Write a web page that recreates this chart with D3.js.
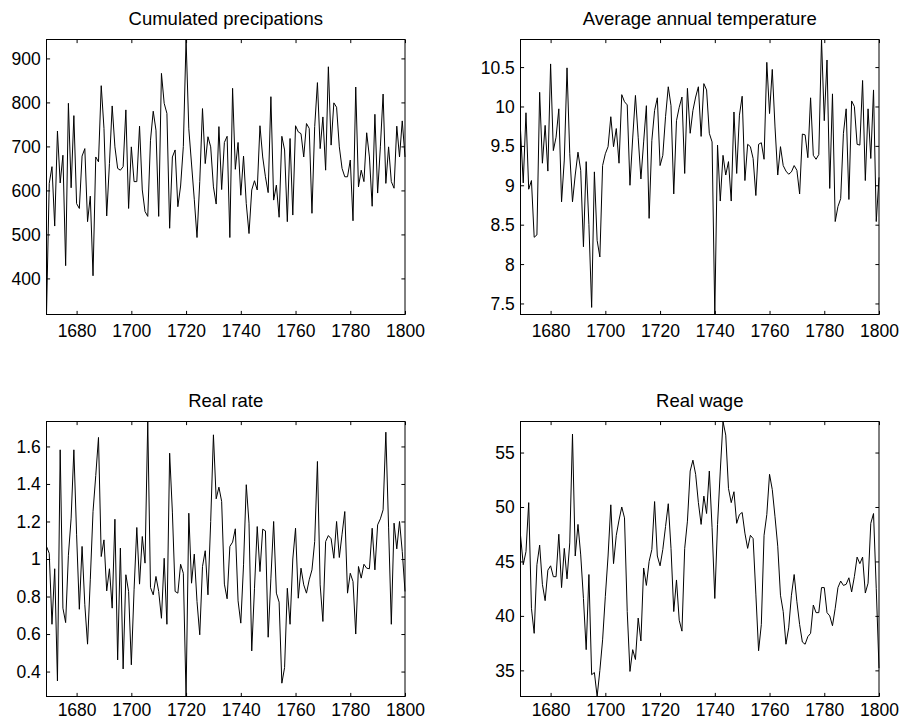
<!DOCTYPE html>
<html>
<head>
<meta charset="utf-8">
<script src="https://cdn.jsdelivr.net/npm/d3@7"></script>
<style>
    body { margin: 0; background: #ffffff; }
    svg text { font-family: "Liberation Sans", Arial, Helvetica, sans-serif; fill: #000; }
</style>
</head>
<body>
<div id="chart"></div>
<script>

// years covered by the four series (one value per year)
const years = d3.range(1669, 1801);
const xTicks = [1680, 1700, 1720, 1740, 1760, 1780, 1800];

// cumulated precipitations, 1669..1800
const precipitation = [
    318,
    616, 654, 519, 735, 617, 680, 429, 798, 606, 770,       // 1670s
    570, 559, 678, 695, 529, 587, 406, 676, 665, 838,       // 1680s
    741, 542, 661, 792, 699, 650, 646, 654, 783, 559,       // 1690s
    699, 620, 620, 746, 601, 552, 541, 714, 780, 737,       // 1700s
    541, 866, 798, 775, 514, 676, 692, 563, 610, 700,       // 1710s
    943, 740, 660, 580, 493, 620, 786, 661, 722, 699,       // 1720s
    608, 569, 745, 602, 709, 723, 493, 832, 648, 709,       // 1730s
    589, 678, 570, 502, 601, 622, 601, 747, 676, 631,       // 1740s
    595, 813, 578, 612, 539, 723, 692, 529, 718, 544,       // 1750s
    747, 733, 729, 676, 752, 741, 548, 745, 845, 695,       // 1760s
    767, 646, 881, 703, 799, 789, 699, 650, 631, 631,       // 1770s
    669, 531, 835, 608, 646, 620, 731, 676, 564, 773,       // 1780s
    594, 699, 819, 616, 699, 620, 605, 746, 676, 758,       // 1790s
    676
];

// average annual temperature, 1669..1800
const temperature = [
    9.7,
    9.03, 9.92, 8.95, 9.06, 8.34, 8.37, 10.18, 9.28, 9.76, 9.18,
    10.54, 9.44, 9.61, 9.97, 8.79, 9.32, 10.49, 9.40, 8.79, 9.13,
    9.42, 9.19, 8.22, 9.30, 8.5, 7.45, 9.17, 8.30, 8.09, 9.25,
    9.40, 9.49, 9.87, 9.49, 9.72, 9.28, 10.15, 10.06, 10.02, 9.0,
    9.6, 10.14, 9.61, 9.08, 9.55, 10.01, 8.58, 9.57, 9.95, 10.11,
    9.25, 9.38, 9.87, 10.25, 10.01, 8.89, 9.82, 9.99, 10.12, 9.15,
    10.23, 9.66, 9.95, 10.12, 10.25, 9.62, 10.29, 10.21, 9.66, 9.55,
    7.36, 9.51, 8.80, 9.38, 9.13, 9.30, 8.80, 9.93, 9.15, 9.89,
    10.13, 9.06, 9.52, 9.49, 9.34, 8.87, 9.52, 9.54, 9.33, 10.56,
    9.91, 10.47, 9.74, 9.13, 9.49, 9.25, 9.18, 9.14, 9.17, 9.25,
    9.19, 8.89, 9.65, 9.64, 9.35, 10.11, 9.38, 9.33, 9.39, 10.85,
    9.82, 10.59, 8.96, 10.16, 8.54, 8.73, 8.83, 9.66, 9.97, 8.82,
    10.07, 10.0, 9.52, 9.51, 10.33, 9.06, 9.97, 9.34, 10.21, 8.54,
    9.1
];

// real rate, 1669..1800
const realRate = [
    1.067,
    1.03, 0.652, 0.948, 0.35, 1.582, 0.738, 0.661, 1.02, 1.218, 1.582,
    1.129, 0.732, 1.067, 0.756, 0.546, 0.889, 1.253, 1.445, 1.648, 1.013,
    1.102, 0.83, 0.948, 0.738, 1.212, 0.462, 1.058, 0.414, 0.916, 0.827,
    0.436, 0.836, 1.168, 0.866, 1.12, 0.978, 1.733, 0.848, 0.809, 0.907,
    0.827, 0.684, 1.004, 0.652, 1.564, 1.25, 0.827, 0.818, 0.972, 0.924,
    0.267, 1.244, 0.871, 1.026, 0.773, 0.596, 0.96, 1.044, 0.809, 1.2,
    1.662, 1.321, 1.383, 1.307, 0.866, 0.788, 1.067, 1.09, 1.161, 0.777,
    0.658, 0.969, 1.396, 1.191, 0.51, 0.844, 1.173, 0.933, 1.159, 1.15,
    0.583, 0.898, 1.2, 0.818, 0.77, 0.338, 0.421, 0.844, 0.652, 1.0,
    1.164, 0.791, 0.951, 0.862, 0.818, 0.889, 0.942, 1.093, 1.52, 0.862,
    0.667, 1.093, 1.125, 1.108, 1.004, 1.2, 1.008, 1.132, 1.253, 0.818,
    0.924, 0.88, 0.6, 0.96, 0.898, 0.972, 0.951, 0.948, 1.164, 0.942,
    1.182, 1.214, 1.262, 1.676, 1.17, 0.652, 1.191, 1.054, 1.2, 1.04,
    0.827
];

// real wage, 1669..1800
const realWage = [
    47.4,
    44.7, 45.9, 50.4, 40.7, 38.4, 44.7, 46.5, 42.9, 41.4, 44.2,
    44.6, 43.6, 43.6, 47.5, 42.6, 46.2, 43.4, 46.7, 56.7, 45.5,
    48.4, 45.6, 41.6, 36.9, 43.8, 34.6, 34.8, 32.6, 35.0, 37.8,
    41.8, 45.5, 50.2, 44.8, 47.4, 48.8, 50.0, 49.0, 40.4, 34.9,
    36.9, 36.0, 39.8, 37.7, 44.4, 42.8, 45.0, 46.1, 50.5, 45.5,
    44.6, 46.1, 48.2, 50.3, 46.2, 40.4, 43.3, 39.6, 38.6, 46.2,
    48.7, 53.3, 54.3, 53.0, 50.4, 48.4, 51.0, 49.4, 53.3, 48.1,
    41.6, 48.4, 53.3, 57.85, 56.6, 51.7, 50.4, 51.4, 48.5, 49.3,
    49.5, 47.6, 46.2, 47.4, 47.1, 42.0, 36.8, 39.2, 47.4, 49.3,
    53.0, 51.6, 49.1, 46.4, 41.9, 40.4, 37.4, 38.9, 41.9, 43.8,
    41.3, 39.2, 37.6, 37.4, 38.1, 38.4, 41.0, 40.3, 40.3, 42.6,
    42.6, 40.3, 40.0, 39.1, 40.7, 42.6, 43.2, 42.8, 42.9, 43.5,
    42.2, 43.6, 45.4, 44.8, 45.4, 42.1, 43.0, 48.5, 49.4, 42.5,
    35.2
];

// y tick labels
const precipTicks = [400, 500, 600, 700, 800, 900];
const tempTicks = [7.5, 8, 8.5, 9, 9.5, 10, 10.5];
const rateTicks = [0.4, 0.6, 0.8, 1, 1.2, 1.4, 1.6];
const wageTicks = [35, 40, 45, 50, 55];


class SeriesPanel {

    constructor(svg, box, title, values, yTicks) {
        this.svg = svg;
        this.box = box;
        this.title = title;
        this.values = values;
        this.yTicks = yTicks;

        this.initVis();
    }

    initVis() {
        let vis = this;
        let tick = 3.6;

        vis.g = vis.svg.append("g")
            .attr("transform", `translate(${vis.box.x}, ${vis.box.y})`);

        // tight axes like matlab
        vis.x = d3.scaleLinear()
            .domain(d3.extent(years))
            .range([0, vis.box.w]);

        vis.y = d3.scaleLinear()
            .domain(d3.extent(vis.values))
            .range([vis.box.h, 0]);

        // ticks pointing inwards on all four sides
        let bottom = vis.g.append("g")
            .attr("transform", `translate(0, ${vis.box.h})`)
            .call(d3.axisBottom(vis.x).tickValues(xTicks).tickFormat(d3.format("d"))
                .tickSizeInner(-tick).tickSizeOuter(0).tickPadding(vis.box.pad));

        let top = vis.g.append("g")
            .call(d3.axisTop(vis.x).tickValues(xTicks).tickFormat("")
                .tickSizeInner(-tick).tickSizeOuter(0));

        let left = vis.g.append("g")
            .call(d3.axisLeft(vis.y).tickValues(vis.yTicks).tickFormat(d => String(d))
                .tickSizeInner(-tick).tickSizeOuter(0).tickPadding(5.7));

        let right = vis.g.append("g")
            .attr("transform", `translate(${vis.box.w}, 0)`)
            .call(d3.axisRight(vis.y).tickValues(vis.yTicks).tickFormat("")
                .tickSizeInner(-tick).tickSizeOuter(0));

        [bottom, top, left, right].forEach(a => {
            a.select(".domain").remove();
            a.selectAll("line").attr("stroke", "#000");
            a.selectAll("text")
                .attr("font-family", null)
                .attr("font-size", "17.5px")
                .attr("fill", "#000");
        });
        left.selectAll("text").attr("dy", "0.34em");

        // the series
        vis.line = d3.line()
            .x((d, i) => vis.x(years[i]))
            .y(d => vis.y(d));

        vis.g.append("path")
            .datum(vis.values)
            .attr("d", vis.line)
            .attr("fill", "none")
            .attr("stroke", "#000")
            .attr("stroke-width", 1)
            .attr("stroke-linejoin", "round");

        // box
        vis.g.append("rect")
            .attr("width", vis.box.w)
            .attr("height", vis.box.h)
            .attr("fill", "none")
            .attr("stroke", "#000")
            .attr("stroke-width", 1);

        // title
        vis.g.append("text")
            .attr("x", vis.box.w / 2)
            .attr("y", -14.3)
            .attr("text-anchor", "middle")
            .attr("font-size", "18.5px")
            .text(vis.title);
    }
}


let svg = d3.select("#chart").append("svg")
    .attr("width", 901)
    .attr("height", 721);

let w = 358.5, h = 275;

// bottom row labels sit a little higher so they stay inside the page
new SeriesPanel(svg, {x: 46.5, y: 39.5, w: w, h: h, pad: 10}, "Cumulated precipations", precipitation, precipTicks);
new SeriesPanel(svg, {x: 520.5, y: 39.5, w: w, h: h, pad: 10}, "Average annual temperature", temperature, tempTicks);
new SeriesPanel(svg, {x: 46.5, y: 421.5, w: w, h: h, pad: 7.5}, "Real rate", realRate, rateTicks);
new SeriesPanel(svg, {x: 520.5, y: 421.5, w: w, h: h, pad: 7.5}, "Real wage", realWage, wageTicks);

</script>
</body>
</html>
